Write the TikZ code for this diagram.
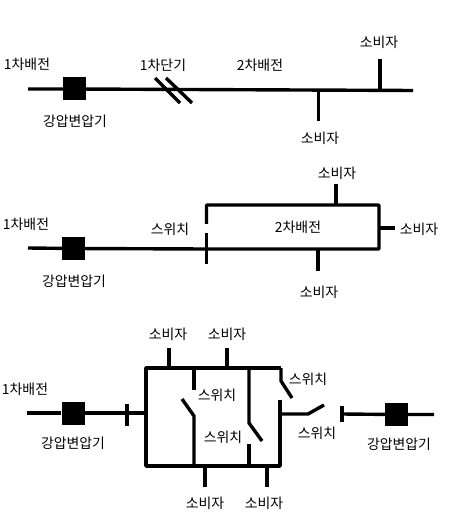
\documentclass[tikz,border=0pt]{standalone}
\usepackage{fontspec}
\setmainfont{Noto Sans CJK KR}
\usetikzlibrary{positioning}

\begin{document}
\begin{tikzpicture}[x=1pt,y=-1pt]

\tikzset{xfmr/.style = {shape=rectangle,fill=black,inner sep=0pt,minimum width=23pt,minimum height=23pt}}
\tikzset{wire/.style = {line width=3.4pt,line join=round}}
\tikzset{lbl/.style = {inner sep=0pt,yshift=-1pt,font=\fontsize{13.9}{15}\selectfont}}

\useasboundingbox (0,0) rectangle (450,526);

% top: labels
\node[lbl] (a1) at (27,63) {1차배전};
\node[lbl] (a2) at (163,64) {1차단기};
\node[lbl] (a3) at (260,64) {2차배전};
\node[lbl] (a4) at (379,41) {소비자};
\node[lbl] (a5) at (75,120) {강압변압기};
\node[lbl] (a6) at (320,137) {소비자};

% top: vertices
\node[xfmr] (ta) at (74.5,89) {};
\coordinate (p1) at (28,89);
\coordinate (p2) at (413,90.5);
\coordinate (p3) at (380,59);
\coordinate (p4) at (380,90.5);
\coordinate (p5) at (318.5,121);
\coordinate (p6) at (318.5,90);
\coordinate (q1) at (155,78);
\coordinate (q2) at (180,103);
\coordinate (q3) at (166,78);
\coordinate (q4) at (192,103);

% top: edges
\draw[wire] (p1) -- (ta) -- (p2);
\draw[wire] (p3) -- (p4);
\draw[wire] (p5) -- (p6);
\draw[wire] (q1) -- (q2);
\draw[wire] (q3) -- (q4);

% middle: labels
\node[lbl] (b1) at (26,223) {1차배전};
\node[lbl] (b2) at (170,228) {스위치};
\node[lbl] (b3) at (298,226) {2차배전};
\node[lbl] (b4) at (337,172) {소비자};
\node[lbl] (b5) at (419,228) {소비자};
\node[lbl] (b6) at (74,280) {강압변압기};
\node[lbl] (b7) at (319,291) {소비자};

% middle: vertices
\node[xfmr] (tb) at (73.5,248.5) {};
\coordinate (r1) at (28,248);
\coordinate (r2) at (206.5,249);
\coordinate (r3) at (379,249);
\coordinate (r4) at (379,205);
\coordinate (r5) at (206.5,205);
\coordinate (r6) at (206.5,224);
\coordinate (r7) at (206.5,233);
\coordinate (r8) at (206.5,264);
\coordinate (r9) at (336,184);
\coordinate (r10) at (336,205);
\coordinate (r11) at (379,228);
\coordinate (r12) at (395,228);
\coordinate (r13) at (318,249);
\coordinate (r14) at (318,271);

% middle: edges
\draw[wire] (r1) -- (tb) -- (r2) -- (r3) -- (r4) -- (r5) -- (r6);
\draw[wire] (r7) -- (r8);
\draw[wire] (r9) -- (r10);
\draw[wire] (r11) -- (r12);
\draw[wire] (r13) -- (r14);

% bottom: labels
\node[lbl] (c1) at (25,388) {1차배전};
\node[lbl] (c2) at (168,333) {소비자};
\node[lbl] (c3) at (227,333) {소비자};
\node[lbl] (c4) at (308,378) {스위치};
\node[lbl] (c5) at (217,394) {스위치};
\node[lbl] (c6) at (223,436) {스위치};
\node[lbl] (c7) at (317,432) {스위치};
\node[lbl] (c8) at (73,442) {강압변압기};
\node[lbl] (c9) at (399,443) {강압변압기};
\node[lbl] (c10) at (205,502) {소비자};
\node[lbl] (c11) at (264,502) {소비자};

% bottom: vertices
\node[xfmr] (tc) at (73,413) {};
\node[xfmr] (td) at (396.5,414.5) {};
\coordinate (s1) at (27,413);
\coordinate (s2) at (146,413);
\coordinate (s3) at (127,404);
\coordinate (s4) at (127,426);
\coordinate (s5) at (146,368);
\coordinate (s6) at (146,466);
\coordinate (s7) at (281,368);
\coordinate (s8) at (281,381);
\coordinate (s9) at (292,398);
\coordinate (s10) at (280,466);
\coordinate (s11) at (280,400);
\coordinate (s12) at (280,414);
\coordinate (s13) at (308,414);
\coordinate (s14) at (324,405);
\coordinate (s15) at (342,406);
\coordinate (s16) at (342,422);
\coordinate (s17) at (342,414);
\coordinate (s18) at (434,414.5);
% consumers and inner switches
\coordinate (u1) at (169,348);
\coordinate (u2) at (169,368);
\coordinate (u3) at (227,348);
\coordinate (u4) at (227,368);
\coordinate (u5) at (205,466);
\coordinate (u6) at (205,487);
\coordinate (u7) at (267,466);
\coordinate (u8) at (267,487);
\coordinate (v1) at (194,368);
\coordinate (v2) at (194,390);
\coordinate (v3) at (182,399);
\coordinate (v4) at (194,416);
\coordinate (v5) at (194,466);
\coordinate (v6) at (249,368);
\coordinate (v7) at (249,423);
\coordinate (v8) at (262,441);
\coordinate (v9) at (249,444);
\coordinate (v10) at (249,466);

% bottom: edges
\draw[wire] (s1) -- (tc) -- (s2);
\draw[wire] (s3) -- (s4);
\draw[wire] (s7) -- (s5) -- (s6) -- (s10) -- (s11);
\draw[wire] (s7) -- (s8) -- (s9);
\draw[wire] (s12) -- (s13) -- (s14);
\draw[wire] (s15) -- (s16);
\draw[wire] (s17) -- (td) -- (s18);
\draw[wire] (u1) -- (u2);
\draw[wire] (u3) -- (u4);
\draw[wire] (u5) -- (u6);
\draw[wire] (u7) -- (u8);
\draw[wire] (v1) -- (v2);
\draw[wire] (v3) -- (v4) -- (v5);
\draw[wire] (v6) -- (v7) -- (v8);
\draw[wire] (v9) -- (v10);

\end{tikzpicture}
\end{document}
